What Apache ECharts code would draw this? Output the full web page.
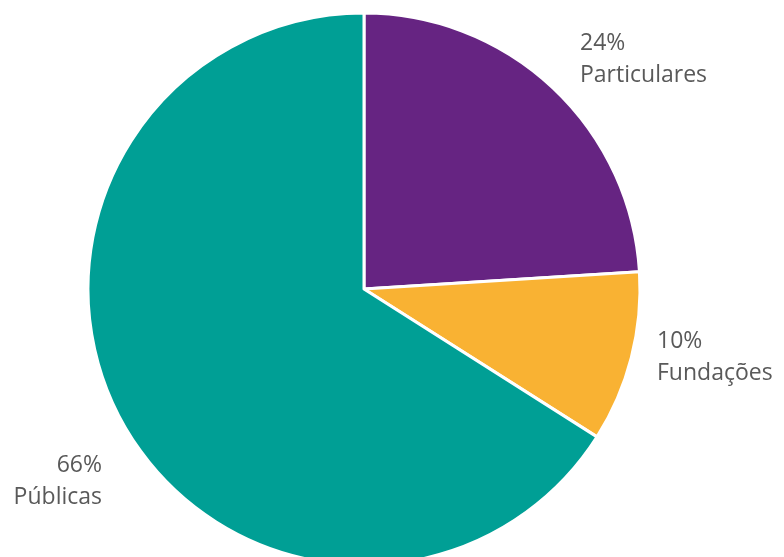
<!DOCTYPE html>
<html>
<head>
<meta charset="utf-8">
<style>html,body{margin:0;padding:0;background:#fff;}#c{width:784px;height:557px;}</style>
<script src="https://cdn.jsdelivr.net/npm/echarts@6/dist/echarts.min.js"></script>
</head>
<body>
<div id="c"></div>
<script>
const categories = ['Particulares', 'Fundações', 'Públicas'];
const values = [24, 10, 66];
const colors = ['#662482', '#F9B233', '#009F95'];

const labelPos = [
  {x: 580, y: 27, align: 'left'},
  {x: 657, y: 325, align: 'left'},
  {x: 102, y: 449, align: 'right'}
];

const chart = echarts.init(document.getElementById('c'), null, {renderer: 'canvas'});
chart.setOption({
  animation: false,
  series: [{
    type: 'pie',
    center: [364, 289],
    radius: [0, 276],
    startAngle: 90,
    clockwise: true,
    data: categories.map((n, i) => ({
      name: n, value: values[i], itemStyle: {color: colors[i]}
    })),
    itemStyle: {borderColor: '#fff', borderWidth: 3},
    label: {
      show: true,
      formatter: p => p.value + '%\n' + p.name,
      fontFamily: 'Open Sans',
      fontSize: 23,
      lineHeight: 32,
      color: '#595959',
      overflow: 'none'
    },
    labelLine: {show: false},
    labelLayout: function (params) {
      const p = labelPos[params.dataIndex];
      return {x: p.x, y: p.y, align: p.align, verticalAlign: 'top'};
    },
    emphasis: {disabled: true}
  }]
});
</script>
</body>
</html>
